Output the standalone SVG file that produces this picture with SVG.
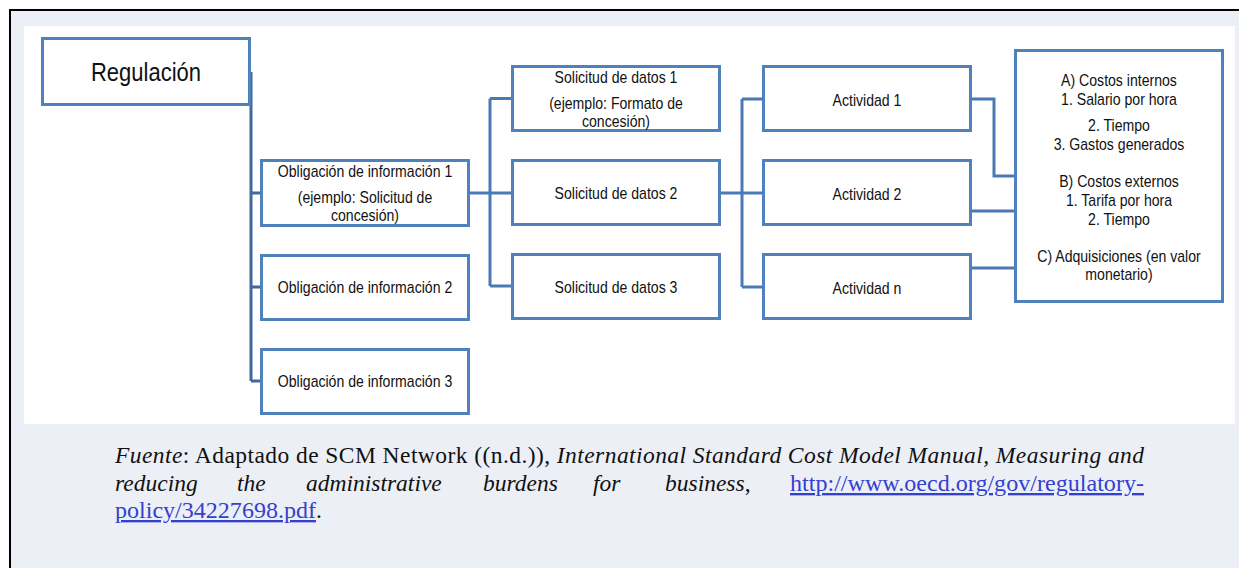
<svg xmlns="http://www.w3.org/2000/svg" width="1239" height="568" viewBox="0 0 1239 568">
  <style>
    .box { fill: #ffffff; stroke: #4f81bd; stroke-width: 3; }
    .wire { fill: none; stroke: #4a7ab5; stroke-width: 3; }
    .trunk { fill: none; stroke: #41699c; stroke-width: 3; }
    .t { font-family: "Liberation Sans", Arial, sans-serif; font-size: 16px; text-anchor: middle; fill: #111111; }
    .big { font-size: 25px; }
    .note { font-family: "Liberation Serif", "Times New Roman", serif; font-size: 23.5px; fill: #111111; }
    .it { font-style: italic; }
    .link { fill: #3341cf; text-decoration: underline; }
  </style>

  <!-- frame and panels -->
  <rect x="11" y="11" width="1228" height="557" fill="#eceff6"/>
  <rect x="24" y="26" width="1211" height="398" fill="#ffffff"/>
  <path d="M10 568 V10 H1239" fill="none" stroke="#000000" stroke-width="2"/>

  <!-- connectors -->
  <g id="connectors">
    <path class="trunk" d="M251 72 V381 M251 193 H260 M251 287 H260 M251 381 H260"/>
    <path class="wire" d="M470 193 H511 M490 98.5 V286 M490 98.5 H511 M490 286 H511"/>
    <path class="wire" d="M721 193 H762 M742 99 V287 M742 99 H762 M742 287 H762"/>
    <path class="wire" d="M972 99 H994 V176 H1014 M972 211 H1014 M972 268 H1014"/>
  </g>

  <!-- root -->
  <g id="regulacion">
    <rect class="box" x="42.5" y="38.5" width="207" height="66"/>
    <text class="t big" transform="translate(146 81) scale(0.88 1)">Regulación</text>
  </g>

  <!-- obligations -->
  <g id="obligacion-1">
    <rect class="box" x="261.5" y="160.5" width="207" height="65"/>
    <text class="t" transform="translate(365 177) scale(0.88 1)">Obligación de información 1</text>
    <text class="t" transform="translate(365 203) scale(0.88 1)">(ejemplo: Solicitud de</text>
    <text class="t" transform="translate(365 220.5) scale(0.88 1)">concesión)</text>
  </g>
  <g id="obligacion-2">
    <rect class="box" x="261.5" y="255.5" width="207" height="64"/>
    <text class="t" transform="translate(365 292.5) scale(0.88 1)">Obligación de información 2</text>
  </g>
  <g id="obligacion-3">
    <rect class="box" x="261.5" y="349.5" width="207" height="64"/>
    <text class="t" transform="translate(365 386.5) scale(0.88 1)">Obligación de información 3</text>
  </g>

  <!-- data requests -->
  <g id="solicitud-1">
    <rect class="box" x="512.5" y="66.5" width="207" height="64"/>
    <text class="t" transform="translate(616 82.5) scale(0.88 1)">Solicitud de datos 1</text>
    <text class="t" transform="translate(616 108.5) scale(0.88 1)">(ejemplo: Formato de</text>
    <text class="t" transform="translate(616 126.5) scale(0.88 1)">concesión)</text>
  </g>
  <g id="solicitud-2">
    <rect class="box" x="512.5" y="160.5" width="207" height="64"/>
    <text class="t" transform="translate(616 199) scale(0.88 1)">Solicitud de datos 2</text>
  </g>
  <g id="solicitud-3">
    <rect class="box" x="512.5" y="254.5" width="207" height="64"/>
    <text class="t" transform="translate(616 292.5) scale(0.88 1)">Solicitud de datos 3</text>
  </g>

  <!-- activities -->
  <g id="actividad-1">
    <rect class="box" x="763.5" y="66.5" width="207" height="64"/>
    <text class="t" transform="translate(867 105.5) scale(0.88 1)">Actividad 1</text>
  </g>
  <g id="actividad-2">
    <rect class="box" x="763.5" y="160.5" width="207" height="64"/>
    <text class="t" transform="translate(867 200) scale(0.88 1)">Actividad 2</text>
  </g>
  <g id="actividad-n">
    <rect class="box" x="763.5" y="254.5" width="207" height="64"/>
    <text class="t" transform="translate(867 294) scale(0.88 1)">Actividad n</text>
  </g>

  <!-- cost breakdown -->
  <g id="costos">
    <rect class="box" x="1015.5" y="50.5" width="207" height="251"/>
    <text class="t" transform="translate(1119 85.5) scale(0.88 1)">A) Costos internos</text>
    <text class="t" transform="translate(1119 104.5) scale(0.88 1)">1. Salario por hora</text>
    <text class="t" transform="translate(1119 130.5) scale(0.88 1)">2. Tiempo</text>
    <text class="t" transform="translate(1119 149.5) scale(0.88 1)">3. Gastos generados</text>
    <text class="t" transform="translate(1119 186.5) scale(0.88 1)">B) Costos externos</text>
    <text class="t" transform="translate(1119 205.5) scale(0.88 1)">1. Tarifa por hora</text>
    <text class="t" transform="translate(1119 224.5) scale(0.88 1)">2. Tiempo</text>
    <text class="t" transform="translate(1119 262) scale(0.88 1)">C) Adquisiciones (en valor</text>
    <text class="t" transform="translate(1119 280) scale(0.88 1)">monetario)</text>
  </g>

  <!-- source note (justified lines) -->
  <g id="fuente">
    <text class="note" x="115" y="463" textLength="1029" lengthAdjust="spacing"><tspan class="it">Fuente</tspan>: Adaptado de SCM Network ((n.d.)), <tspan class="it">International Standard Cost Model Manual, Measuring and</tspan></text>
    <text class="note it" x="115" y="491">reducing</text>
    <text class="note it" x="237" y="491">the</text>
    <text class="note it" x="306" y="491">administrative</text>
    <text class="note it" x="483" y="491">burdens</text>
    <text class="note it" x="593" y="491">for</text>
    <text class="note" x="665" y="491"><tspan class="it">business</tspan>,</text>
    <text class="note link" x="790" y="491" textLength="354" lengthAdjust="spacingAndGlyphs">http://www.oecd.org/gov/regulatory-</text>
    <text class="note link" x="115" y="518" textLength="201" lengthAdjust="spacingAndGlyphs">policy/34227698.pdf</text>
    <text class="note" x="316" y="518">.</text>
  </g>
</svg>
